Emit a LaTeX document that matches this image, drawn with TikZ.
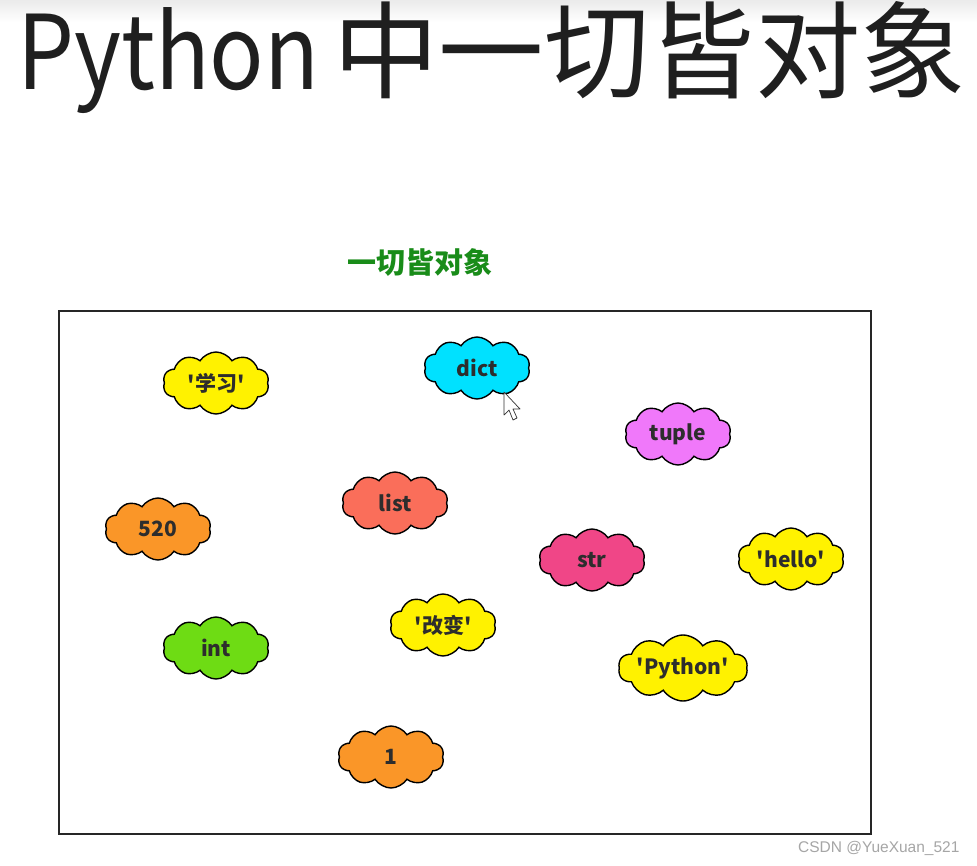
\documentclass[tikz,border=0pt]{standalone}
\usepackage{fontspec}
\setmainfont{Liberation Sans}
\newfontfamily\cjk{Noto Sans CJK SC}
\usetikzlibrary{shapes.symbols}
\definecolor{cyel}{RGB}{255,242,0}
\definecolor{ccyan}{RGB}{0,225,255}
\definecolor{cmag}{RGB}{240,120,250}
\definecolor{csal}{RGB}{250,110,90}
\definecolor{corg}{RGB}{250,150,40}
\definecolor{cpink}{RGB}{240,70,135}
\definecolor{cgrn}{RGB}{110,220,20}
\definecolor{cgreen}{RGB}{25,140,25}
\definecolor{ctext}{RGB}{45,45,45}
\tikzset{
  blob/.style={cloud, cloud puffs=10, cloud puff arc=115, cloud ignores aspect,
    draw=black, line width=1.4pt, minimum width=106pt, minimum height=62pt,
    inner sep=0pt, font=\cjk\bfseries\fontsize{21}{25}\selectfont, text=ctext},
  titletext/.style={anchor=base west, inner sep=0pt, text=black!88},
}
\begin{document}
\begin{tikzpicture}[x=1pt,y=-1pt]
\useasboundingbox (0,0) rectangle (977,866);
\fill[white] (0,0) rectangle (977,866);
\shade[top color=black!8, bottom color=white] (0,0) rectangle (977,22);
% title
\node[titletext, xscale=0.875, font=\cjk\fontsize{103}{110}\selectfont] (title) at (17,90) {Python};
\node[titletext, font=\cjk\fontsize{105.5}{110}\selectfont] (title2) at (333,91) {中一切皆对象};
\node[font=\cjk\bfseries\fontsize{29}{32}\selectfont, text=cgreen] (sub) at (420,263) {一切皆对象};
% frame
\node[draw=black!85, line width=1.8pt, minimum width=812pt, minimum height=523pt, inner sep=0pt] (frame) at (465,572.5) {};
% clouds
\node[blob, fill=cyel] (xuexi) at (216,383) {'学习'};
\node[blob, fill=ccyan] (dict) at (477,368) {dict};
\node[blob, fill=cmag] (tuple) at (678,434) {tuple};
\node[blob, fill=csal] (list) at (395,503) {list};
\node[blob, fill=corg] (n520) at (158,529) {520};
\node[blob, fill=cpink] (str) at (592,560) {str};
\node[blob, fill=cyel] (hello) at (791,559) {'hello'};
\node[blob, fill=cyel] (gaibian) at (443,625) {'改变'};
\node[blob, fill=cgrn] (int) at (216,648) {int};
\node[blob, fill=cyel, minimum width=126pt, minimum height=66pt] (python) at (683,668) {'Python'};
\node[blob, fill=corg] (one) at (391,757) {1};
% cursor
\draw[fill=white, draw=black!80, line width=0.7pt, line join=round]
  (504,392) -- (504,415) -- (509,410) -- (513,420) -- (517,418) -- (513,409) -- (520,409) -- cycle;
% watermark
\node[font=\fontsize{15.5}{18}\selectfont, text=black!35, anchor=east] (wm) at (963,848) {CSDN @YueXuan\_521};
\end{tikzpicture}
\end{document}
